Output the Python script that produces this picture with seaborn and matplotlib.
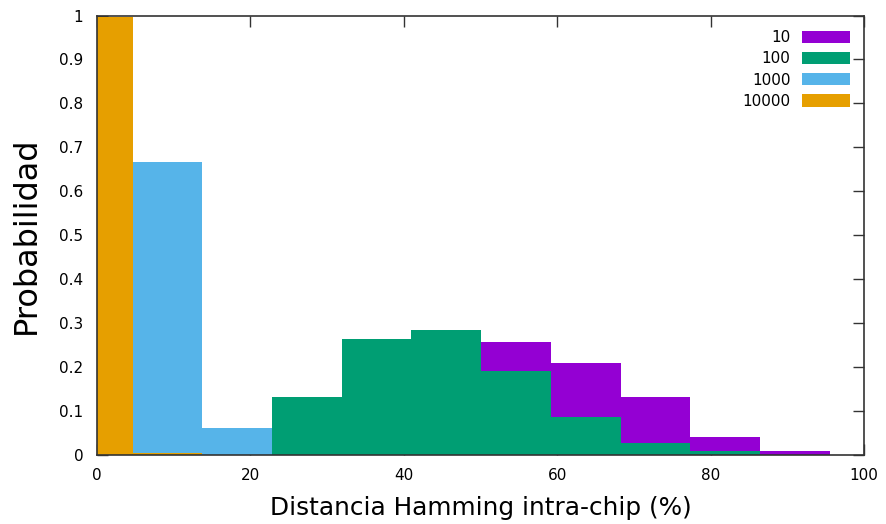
import numpy as np
import pandas as pd
import matplotlib
matplotlib.use("Agg")
import matplotlib.pyplot as plt
import seaborn as sns
from matplotlib.patches import Patch

# Histogram bins: centered on multiples of 100/11
bin_width = 100 / 11
bin_centers = [i * bin_width for i in range(11)]

series_names = ['10', '100', '1000', '10000']
colors = ['#9400d3', '#009e73', '#56b4e9', '#e69f00']

# probability per bin (bins hidden behind other series are estimated)
prob_10 = [0.0, 0.0, 0.007, 0.02, 0.09, 0.24, 0.256, 0.209, 0.130, 0.041, 0.007]
prob_100 = [0.0, 0.0, 0.015, 0.130, 0.262, 0.284, 0.190, 0.086, 0.026, 0.007, 0.0]
prob_1000 = [0.272, 0.666, 0.061, 0.0, 0.0, 0.0, 0.0, 0.0, 0.0, 0.0, 0.0]
prob_10000 = [0.997, 0.003, 0.0, 0.0, 0.0, 0.0, 0.0, 0.0, 0.0, 0.0, 0.0]

datos = {'10': prob_10, '100': prob_100, '1000': prob_1000, '10000': prob_10000}

sns.set_style("ticks")
plt.rcParams['font.family'] = ['DejaVu Sans']
plt.rcParams['text.color'] = 'black'
plt.rcParams['axes.labelcolor'] = 'black'

fig = plt.figure(figsize=(8.87, 5.24), dpi=100)
ax = fig.add_axes([0.1094, 0.1326, 0.8647, 0.8378])

edges = [float((i - 0.5) * bin_width + 0.08) for i in range(12)]

# drawn in order so that later series sit on top
for nombre, cor in zip(series_names, colors):
    df = pd.DataFrame({'x': bin_centers, 'p': datos[nombre]})
    sns.histplot(data=df, x='x', weights='p', bins=edges, color=cor,
                 alpha=1, linewidth=0, stat='count', ax=ax)

ax.set_xlim(0, 100)
ax.set_ylim(0, 1)
ax.set_xticks(range(0, 101, 20))
ax.set_yticks(np.arange(0, 1.01, 0.1))
ax.set_yticklabels(['0', '0.1', '0.2', '0.3', '0.4', '0.5', '0.6', '0.7', '0.8', '0.9', '1'])
ax.tick_params(direction='in', length=8, width=1, top=True, right=True,
               labelsize=11, color='#333333', labelcolor='black', pad=10)
for s in ax.spines.values():
    s.set_color('#333333')
    s.set_linewidth(1.2)

ax.set_xlabel('Distancia Hamming intra-chip (%)', fontsize=17.8, labelpad=9)
ax.set_ylabel('Probabilidad', fontsize=23, labelpad=12)

handles = [Patch(facecolor=c, edgecolor='none') for c in colors]
ax.legend(handles, series_names, loc='upper right', frameon=False, markerfirst=False,
          fontsize=11, handlelength=3.1, handleheight=0.85, labelspacing=0.4,
          borderaxespad=0.4, handletextpad=0.75, alignment='right',
          bbox_to_anchor=(0.997, 0.994))
for t in ax.get_legend().get_texts():
    t.set_ha('right')

fig.savefig('out.png', dpi=100, facecolor='white')
